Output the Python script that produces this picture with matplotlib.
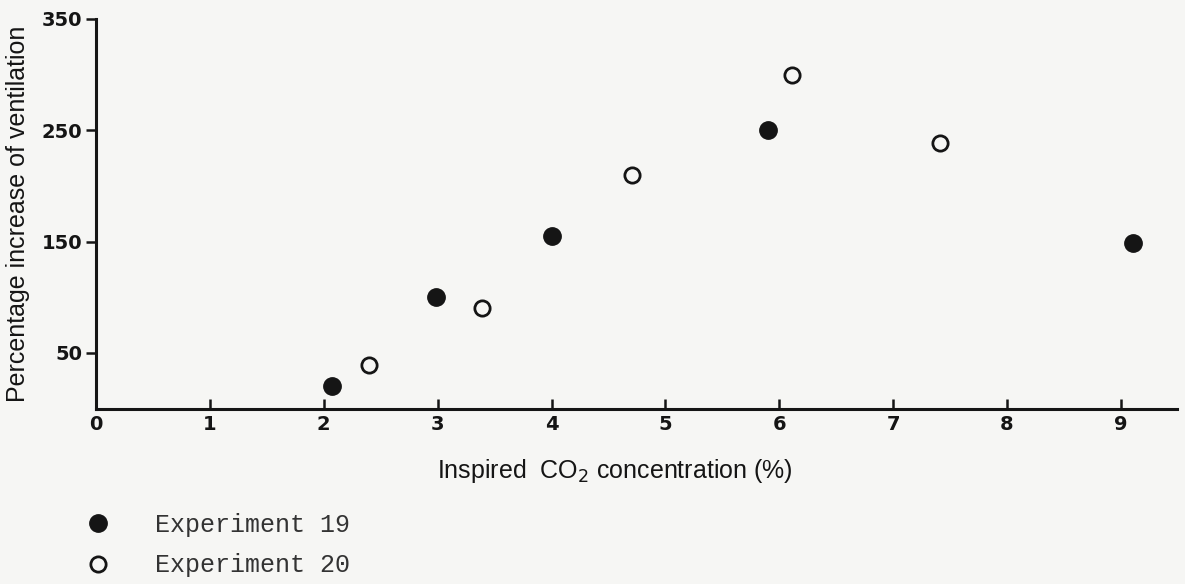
import matplotlib.pyplot as plt

# Experimento 19 (puntos rellenos) y 20 (puntos vacios)
exp19_co2 = [2.07, 2.99, 4.0, 5.9, 9.11]
exp19_vent = [20, 100, 155, 250, 149]
exp20_co2 = [2.4, 3.39, 4.71, 6.11, 7.41]
exp20_vent = [39, 90, 210, 300, 239]

x_ticks = [0, 1, 2, 3, 4, 5, 6, 7, 8, 9]
y_ticks = [50, 150, 250, 350]

bg = '#f6f6f4'
ink = '#151515'

fig = plt.figure(figsize=(11.85, 5.84), dpi=100, facecolor=bg)
ax = fig.add_axes([0.081, 0.3005, 0.912, 0.667], facecolor=bg)

p19, = ax.plot(exp19_co2, exp19_vent, 'o', ms=12.5, color=ink, mec=ink,
               label='Experiment 19', clip_on=False)
p20, = ax.plot(exp20_co2, exp20_vent, 'o', ms=11, mfc='none', mec=ink, mew=2,
               label='Experiment 20', clip_on=False)

ax.set_xlim(0, 9.49)
ax.set_ylim(0, 350)
ax.set_xticks(x_ticks)
ax.set_yticks(y_ticks)

for s in ['top', 'right']:
    ax.spines[s].set_visible(False)
for s in ['left', 'bottom']:
    ax.spines[s].set_linewidth(2.2)
    ax.spines[s].set_color(ink)

ax.tick_params(axis='x', direction='in', length=7, width=1.8, pad=5, colors=ink)
ax.tick_params(axis='y', direction='out', length=7, width=1.8, pad=3, colors=ink)
for lab in ax.get_xticklabels() + ax.get_yticklabels():
    lab.set_fontfamily('DejaVu Sans')
    lab.set_fontweight('bold')
    lab.set_fontsize(14)

ax.set_xlabel('Inspired  CO$_2$ concentration (%)', fontsize=18,
              family='Liberation Sans', color=ink)
ax.xaxis.set_label_coords(0.48, -0.125)
ax.set_ylabel('Percentage increase of ventilation', fontsize=18,
              family='Liberation Sans', color=ink, labelpad=8)

leg = fig.legend(handles=[p19, p20], loc='upper left',
                 bbox_to_anchor=(0.055, 0.16), bbox_transform=fig.transFigure,
                 frameon=False, handlelength=0.8, handletextpad=1.9,
                 labelspacing=0.65, prop={'family': 'Liberation Mono', 'size': 18})
for t in leg.get_texts():
    t.set_color('#333333')

fig.savefig('out.png', dpi=100, facecolor=bg)
